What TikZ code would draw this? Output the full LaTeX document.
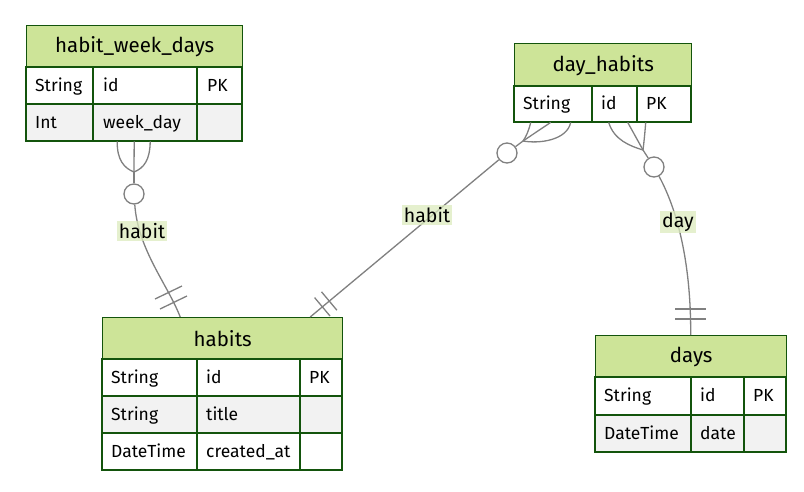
\documentclass[tikz,border=0pt]{standalone}
\usepackage{fontspec}
\setmainfont{Fira Sans}
\usetikzlibrary{calc}

\definecolor{erhead}{RGB}{205,228,152}
\definecolor{erline}{RGB}{19,84,12}
\definecolor{errow}{RGB}{242,242,242}
\definecolor{relgray}{RGB}{128,128,128}
\definecolor{lblbg}{RGB}{220,235,190}

\tikzset{
  tbl/.style={anchor=north west, inner sep=0pt},
  hdr/.style={draw=erline, fill=erhead, line width=1.4pt, anchor=north west, inner sep=0pt, font=\fontsize{20.5}{23}\selectfont},
  cellbox/.style={draw=erline, line width=1.4pt},
  txt/.style={anchor=base west, inner sep=0pt, font=\fontsize{17.5}{20}\selectfont},
  rel/.style={draw=relgray, line width=1.3pt},
  zcirc/.style={circle, draw=relgray, fill=white, line width=1.3pt, minimum size=20pt, inner sep=0pt},
  lbl/.style={fill=lblbg, fill opacity=0.75, text opacity=1, inner sep=2pt, font=\fontsize{19.5}{22}\selectfont}
}

\begin{document}
\begin{tikzpicture}[x=1pt, y=-1pt]
    \useasboundingbox (0,0) rectangle (804,491);

    % habit_week_days
    \node [tbl, minimum width=216pt, minimum height=116pt] (hwd) at (26,25) {};
    \node [hdr, minimum width=216pt, minimum height=42pt] (hwd-name) at (26,25) {habit\_week\_days};
    \draw [cellbox] (26,67) rectangle (242,104);
    \draw [cellbox, fill=errow] (26,104) rectangle (242,141);
    \draw [cellbox] (93,67) -- (93,141) (197,67) -- (197,141);
    \node [txt] (hwd-t1) at (35,91) {String};
    \node [txt] (hwd-n1) at (103,91) {id};
    \node [txt] (hwd-k1) at (207,91) {PK};
    \node [txt] (hwd-t2) at (35,128) {Int};
    \node [txt] (hwd-n2) at (103,128) {week\_day};

    % day_habits
    \node [tbl, minimum width=177pt, minimum height=79pt] (dh) at (514,43) {};
    \node [hdr, minimum width=177pt, minimum height=43pt] (dh-name) at (514,43) {day\_habits};
    \draw [cellbox] (514,86) rectangle (691,122);
    \draw [cellbox] (592,86) -- (592,122) (637,86) -- (637,122);
    \node [txt] (dh-t1) at (523,109.5) {String};
    \node [txt] (dh-n1) at (601,109.5) {id};
    \node [txt] (dh-k1) at (646,109.5) {PK};

    % habits
    \node [tbl, minimum width=240pt, minimum height=153pt] (habits) at (102,317) {};
    \node [hdr, minimum width=240pt, minimum height=42pt] (habits-name) at (102,317) {habits};
    \draw [cellbox] (102,359) rectangle (342,396);
    \draw [cellbox, fill=errow] (102,396) rectangle (342,433);
    \draw [cellbox] (102,433) rectangle (342,470);
    \draw [cellbox] (197,359) -- (197,470) (300,359) -- (300,470);
    \node [txt] (habits-t1) at (111,383) {String};
    \node [txt] (habits-n1) at (206,383) {id};
    \node [txt] (habits-k1) at (309,383) {PK};
    \node [txt] (habits-t2) at (111,420) {String};
    \node [txt] (habits-n2) at (206,420) {title};
    \node [txt] (habits-t3) at (111,457) {DateTime};
    \node [txt] (habits-n3) at (206,457) {created\_at};

    % days
    \node [tbl, minimum width=191pt, minimum height=117pt] (days) at (595,335) {};
    \node [hdr, minimum width=191pt, minimum height=42pt] (days-name) at (595,335) {days};
    \draw [cellbox] (595,377) rectangle (786,415);
    \draw [cellbox, fill=errow] (595,415) rectangle (786,452);
    \draw [cellbox] (691,377) -- (691,452) (744,377) -- (744,452);
    \node [txt] (days-t1) at (604,401.5) {String};
    \node [txt] (days-n1) at (700,401.5) {id};
    \node [txt] (days-k1) at (753,401.5) {PK};
    \node [txt] (days-t2) at (604,439) {DateTime};
    \node [txt] (days-n2) at (700,439) {date};

    % habit_week_days -- habits
    \coordinate (f1) at (134,172);
    \draw [rel] ([xshift=-17pt]hwd.south) .. controls (117,160) and (124,168) .. (f1);
    \draw [rel] (hwd.south) -- (f1);
    \draw [rel] ([xshift=16pt]hwd.south) .. controls (150,160) and (144,168) .. (f1);
    \node [zcirc] (c1) at (134,194) {};
    \draw [rel] (f1) -- (c1);
    \draw [rel] (c1) .. controls (138,250) and (168,285) .. ([xshift=-42pt]habits.north);
    \draw [rel] (155,299) -- (182,286);
    \draw [rel] (160,309) -- (187,296);

    % day_habits -- habits
    \coordinate (f2) at (523,141);
    \draw [rel] ([xshift=-72pt]dh.south) .. controls (529,130) and (526,137) .. (f2);
    \draw [rel] ([xshift=-52pt]dh.south) -- (f2);
    \draw [rel] ([xshift=-32pt]dh.south) .. controls (567,140) and (540,144) .. (f2);
    \node [zcirc] (c2) at (507,153) {};
    \draw [rel] (f2) -- (c2);
    \draw [rel] (c2) -- ([xshift=88pt]habits.north);
    \draw [rel] (314.6,297.6) -- (330,316);
    \draw [rel] (321.5,291.8) -- (336.9,310.2);

    % day_habits -- days
    \coordinate (f3) at (643,150);
    \draw [rel] ([xshift=6pt]dh.south) .. controls (614,140) and (630,146) .. (f3);
    \draw [rel] ([xshift=25pt]dh.south) -- (f3);
    \draw [rel] ([xshift=43pt]dh.south) .. controls (645,132) and (644,142) .. (f3);
    \node [zcirc] (c3) at (654,167) {};
    \draw [rel] (f3) -- (c3);
    \draw [rel] (c3) .. controls (680,215) and (691,270) .. (days.north);
    \draw [rel] (675,309) -- (706,309);
    \draw [rel] (675,319) -- (706,319);

    % labels
    \node [lbl] (l1) at (142,231) {habit};
    \node [lbl] (l2) at (427,215) {habit};
    \node [lbl] (l3) at (678,222) {day};
\end{tikzpicture}
\end{document}
